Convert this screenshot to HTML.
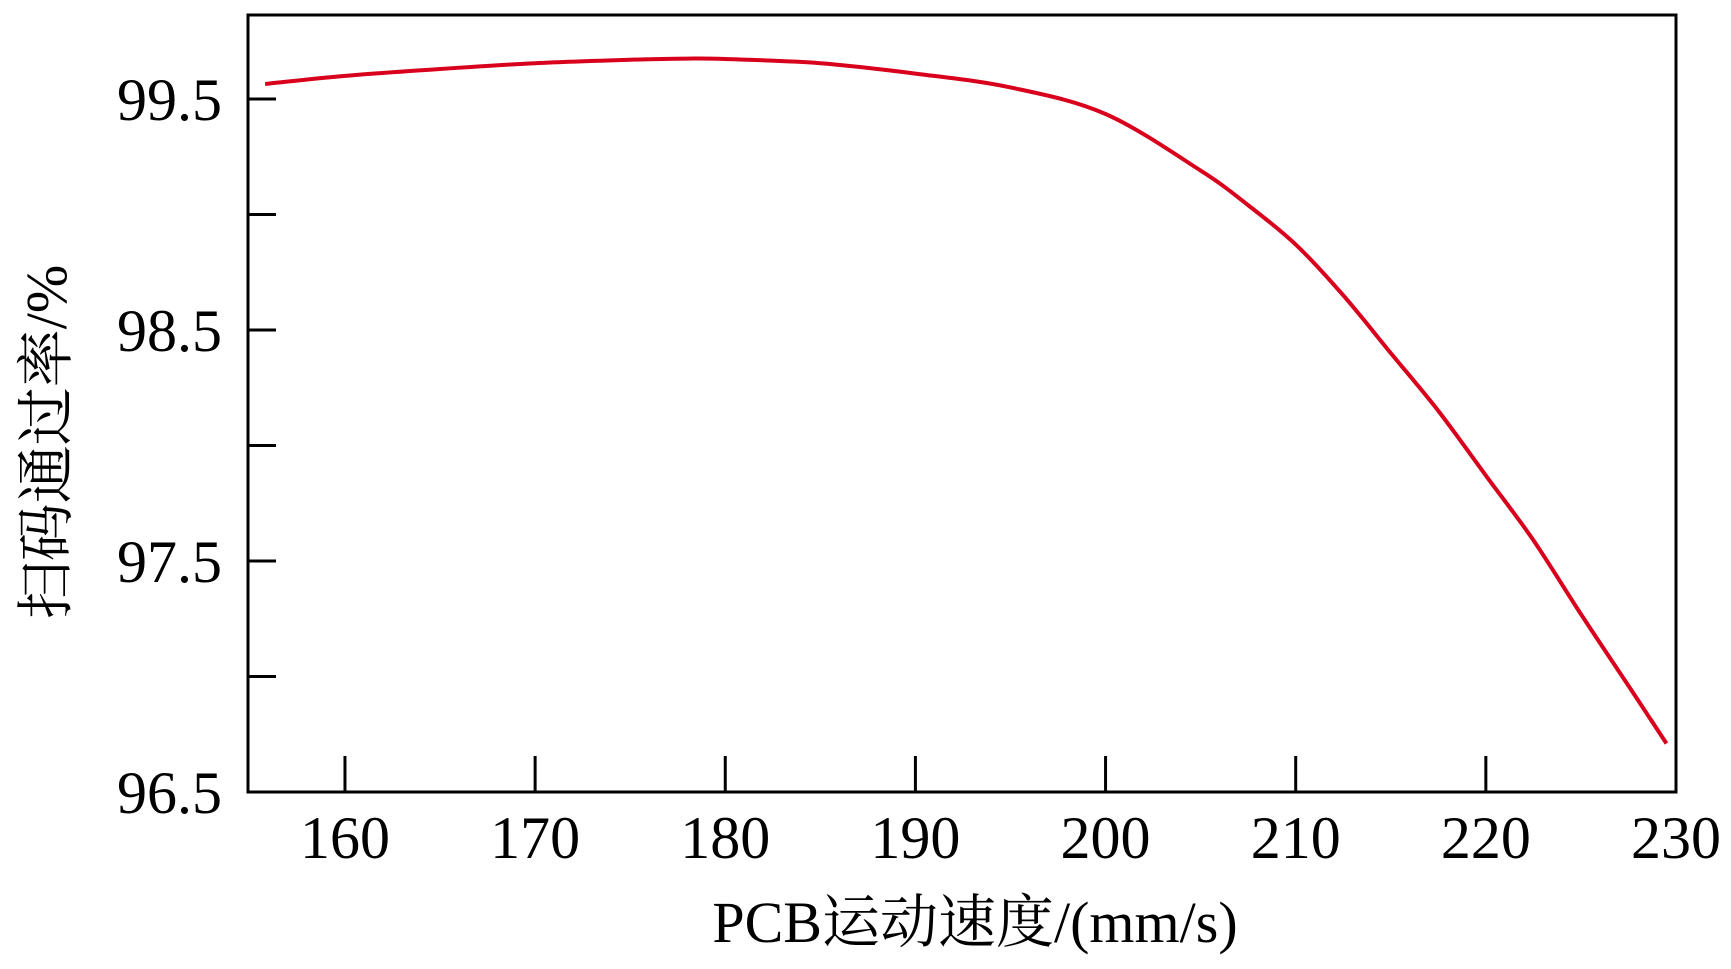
<!DOCTYPE html>
<html><head><meta charset="utf-8"><style>
html,body{margin:0;padding:0;background:#fff;}
svg{display:block;}
text{font-family:"Liberation Serif","Noto Serif CJK SC",serif;fill:#000;}
</style></head><body>
<svg id="chart" width="1731" height="969" viewBox="0 0 1731 969" xmlns="http://www.w3.org/2000/svg"></svg>
<script>
const speeds=[155.8,160,165,170,175,178,180,185,190,195,200,205,207.5,210,212.5,215,217.5,220,222.5,225,227.5,229.5];
const rates=[99.565,99.60,99.63,99.655,99.67,99.675,99.673,99.655,99.61,99.55,99.435,99.19,99.04,98.87,98.65,98.40,98.15,97.87,97.59,97.27,96.96,96.71];
const xTicks=[160,170,180,190,200,210,220,230];
const yTicks=[96.5,97,97.5,98,98.5,99,99.5];
const yLabels=["96.5","","97.5","","98.5","","99.5"];
const L=248,R=1676,T=15,B=792;
const xMin=154.9,xMax=230,yMin=96.5,yMax=99.5+(99-15)/231;
const sx=v=>L+(v-xMin)/(xMax-xMin)*(R-L);
const sy=v=>B-(v-yMin)/(yMax-yMin)*(B-T);
const svg=document.getElementById('chart');
const NS='http://www.w3.org/2000/svg';
function mk(tag,attrs){const e=document.createElementNS(NS,tag);for(const k in attrs)e.setAttribute(k,attrs[k]);svg.appendChild(e);return e;}
// frame
const fr=mk('rect',{x:L,y:T,width:R-L,height:B-T,fill:'none',stroke:'#000','stroke-width':3});


xTicks.forEach((t,i)=>{
  const x=sx(t);
  const tk=mk('line',{x1:x,x2:x,y1:B,y2:B-36,stroke:'#000','stroke-width':3});
  
  
  const lb=mk('text',{x:x,y:858,'font-size':60,'text-anchor':'middle'});
  lb.textContent=t;
  
  
});
yTicks.forEach((t,i)=>{
  const y=sy(t);
  const tk=mk('line',{x1:L,x2:L+28,y1:y,y2:y,stroke:'#000','stroke-width':3});
  
  
  if(yLabels[i]){
    const lb=mk('text',{x:222,y:y+21,'font-size':60,'text-anchor':'end'});
    lb.textContent=yLabels[i];
    
    
  }
});
// smooth curve via Catmull-Rom
const pts=speeds.map((s,i)=>[sx(s),sy(rates[i])]);
let d='M'+pts[0][0]+','+pts[0][1];
for(let i=0;i<pts.length-1;i++){
  const p0=pts[Math.max(0,i-1)],p1=pts[i],p2=pts[i+1],p3=pts[Math.min(pts.length-1,i+2)];
  const c1=[p1[0]+(p2[0]-p0[0])/6,p1[1]+(p2[1]-p0[1])/6];
  const c2=[p2[0]-(p3[0]-p1[0])/6,p2[1]-(p3[1]-p1[1])/6];
  d+=' C'+c1[0]+','+c1[1]+' '+c2[0]+','+c2[1]+' '+p2[0]+','+p2[1];
}
const line=mk('path',{d:d,fill:'none',stroke:'#d8001c','stroke-width':4});


const xt=mk('text',{x:975,y:942,'font-size':58,'text-anchor':'middle'});
xt.textContent='PCB运动速度/(mm/s)';


const yt=mk('text',{x:0,y:0,'font-size':58,'text-anchor':'middle',transform:'translate(66,442) rotate(-90)'});
yt.textContent='扫码通过率/%';


</script>
</body></html>
